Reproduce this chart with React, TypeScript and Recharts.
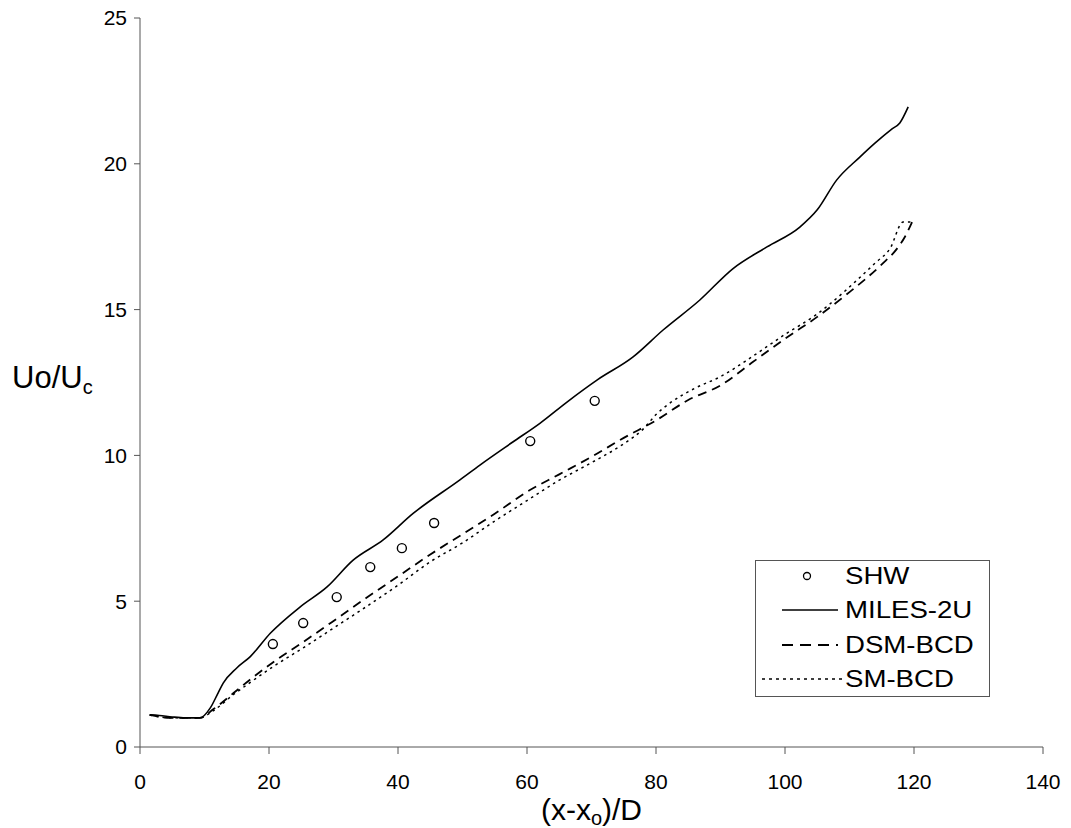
import {
  ComposedChart,
  Line,
  Scatter,
  XAxis,
  YAxis,
  Legend,
  Label,
} from "recharts";

const xTicks = [0, 20, 40, 60, 80, 100, 120, 140];
const yTicks = [0, 5, 10, 15, 20, 25];

const shwX = [20.6, 25.3, 30.5, 35.7, 40.6, 45.6, 60.5, 70.5];
const shwY = [3.53, 4.25, 5.14, 6.17, 6.82, 7.68, 10.49, 11.87];

const milesX = [
  1.5, 3, 5, 7, 9.3, 10.9, 12.1, 12.9, 15, 17.1, 20.2, 24.8, 29, 33, 37.7,
  42.3, 49.6, 52.7, 57.8, 62, 66.2, 70.9, 76.4, 81.1, 86.8, 91.9, 97.2, 102.3,
  105, 108, 111.6, 113.9, 116.6, 117.8, 119.1,
];
const milesY = [
  1.1, 1.08, 1.03, 1.0, 1.0, 1.34, 1.85, 2.19, 2.71, 3.1, 3.9, 4.8, 5.49, 6.4,
  7.1, 8.0, 9.16, 9.67, 10.46, 11.1, 11.83, 12.59, 13.37, 14.3, 15.33, 16.4,
  17.15, 17.83, 18.42, 19.44, 20.23, 20.7, 21.2, 21.4, 21.95,
];

const dsmX = [
  1.5, 4.6, 9.3, 11.4, 14.5, 17, 20.6, 25.3, 30.5, 35, 40, 45, 50, 55, 60, 65,
  70, 75, 80, 85, 90, 95, 100, 105, 110, 115, 117.4, 118.6, 119.7,
];
const dsmY = [
  1.1, 1.0, 1.0, 1.3, 1.85, 2.3, 2.9, 3.6, 4.4, 5.1, 5.85, 6.6, 7.3, 8.0, 8.75,
  9.35, 9.95, 10.6, 11.2, 11.9, 12.4, 13.2, 14.0, 14.75, 15.6, 16.55, 17.1,
  17.5, 18.0,
];

const smX = [
  1.5, 4.6, 9.3, 11.4, 14.5, 17, 20.6, 25.3, 30.5, 35, 40, 45, 50, 55, 60, 65,
  70, 75, 78, 80, 82.2, 86, 90, 95, 100, 105, 107, 111.6, 114, 116.3, 118.3,
  119.7,
];
const smY = [
  1.1, 1.0, 1.0, 1.25, 1.8, 2.2, 2.75, 3.4, 4.15, 4.8, 5.55, 6.35, 7.0, 7.75,
  8.45, 9.15, 9.75, 10.4, 10.9, 11.4, 11.8, 12.3, 12.7, 13.4, 14.15, 14.85,
  15.2, 16.1, 16.6, 17.1, 18.0, 18.0,
];

const toPoints = (xs: number[], ys: number[]) =>
  xs.map((x, i) => ({ x, y: ys[i] }));

const FONT = "'Liberation Sans', Arial, sans-serif";
const AXIS = "#555";

const OpenCircle = (props: any) => (
  <circle cx={props.cx} cy={props.cy} r={4.5} fill="#fff" stroke="#000" strokeWidth={1.4} />
);

const LegendBox = () => {
  const rows = [
    { name: "SHW", kind: "circle" },
    { name: "MILES-2U", kind: "solid" },
    { name: "DSM-BCD", kind: "dash" },
    { name: "SM-BCD", kind: "dot" },
  ];
  return (
    <div
      style={{
        width: 233,
        height: 135,
        border: "1px solid #555",
        background: "#fff",
        fontFamily: FONT,
        fontSize: 24,
        color: "#000",
        position: "relative",
      }}
    >
      {rows.map((r, i) => (
        <div
          key={r.name}
          style={{
            position: "absolute",
            top: 1 + i * 34.3,
            left: 0,
            height: 28,
            display: "flex",
            alignItems: "center",
            whiteSpace: "nowrap",
          }}
        >
          <svg width={89} height={28} style={{ display: "block" }}>
            {r.kind === "circle" && (
              <circle cx={51} cy={14} r={3.5} fill="#fff" stroke="#000" strokeWidth={1.3} />
            )}
            {r.kind === "solid" && (
              <line x1={26} x2={82} y1={14} y2={14} stroke="#000" strokeWidth={1.6} />
            )}
            {r.kind === "dash" && (
              <line x1={26} x2={82} y1={14} y2={14} stroke="#000" strokeWidth={1.8} strokeDasharray="11 7" />
            )}
            {r.kind === "dot" && (
              <line x1={6} x2={87} y1={14} y2={14} stroke="#000" strokeWidth={1.5} strokeDasharray="3 4" />
            )}
          </svg>
          <span
            style={{
              display: "inline-block",
              transform: "scaleX(1.15)",
              transformOrigin: "left center",
            }}
          >
            {r.name}
          </span>
        </div>
      ))}
    </div>
  );
};

const XTitle = (props: any) => {
  const { x, y, width } = props.viewBox;
  return (
    <text x={x + width / 2} y={y + 73} textAnchor="middle" fontFamily={FONT} fontSize={30} fill="#000">
      (x-x
      <tspan fontSize={20} dy={5}>o</tspan>
      <tspan dy={-5}>)/D</tspan>
    </text>
  );
};

const YTitle = (props: any) => {
  const { y, height } = props.viewBox;
  return (
    <text x={12} y={y + height / 2 + 5.5} fontFamily={FONT} fontSize={31} fill="#000">
      Uo/U
      <tspan fontSize={20} dy={6}>c</tspan>
    </text>
  );
};

export default function App() {
  return (
    <div style={{ position: "absolute", left: 0, top: 0, background: "#fff" }}>
      <ComposedChart
        width={1071}
        height={828}
        margin={{ top: 18, right: 28, left: 0, bottom: 0 }}
      >
        <XAxis
          dataKey="x"
          type="number"
          domain={[0, 140]}
          ticks={xTicks}
          allowDuplicatedCategory={false}
          height={81}
          tickSize={7}
          tickMargin={20}
          stroke={AXIS}
          tick={{ fill: "#000", fontSize: 21, fontFamily: FONT }}
        >
          <Label content={<XTitle />} />
        </XAxis>
        <YAxis
          dataKey="y"
          type="number"
          domain={[0, 25]}
          ticks={yTicks}
          width={140}
          tickSize={6}
          tickMargin={7}
          stroke={AXIS}
          tick={{ fill: "#000", fontSize: 21, fontFamily: FONT }}
        >
          <Label content={<YTitle />} />
        </YAxis>
        <Line
          data={toPoints(milesX, milesY)}
          dataKey="y"
          type="monotone"
          stroke="#000"
          strokeWidth={1.6}
          dot={false}
          isAnimationActive={false}
        />
        <Line
          data={toPoints(dsmX, dsmY)}
          dataKey="y"
          type="monotone"
          stroke="#000"
          strokeWidth={1.8}
          strokeDasharray="9 6"
          dot={false}
          isAnimationActive={false}
        />
        <Line
          data={toPoints(smX, smY)}
          dataKey="y"
          type="monotone"
          stroke="#000"
          strokeWidth={1.5}
          strokeDasharray="2.5 4"
          dot={false}
          isAnimationActive={false}
        />
        <Scatter
          data={toPoints(shwX, shwY)}
          dataKey="y"
          shape={<OpenCircle />}
          isAnimationActive={false}
        />
        <Legend
          layout="vertical"
          align="center"
          verticalAlign="middle"
          content={<LegendBox />}
          wrapperStyle={{ left: 755, top: 560, width: 235, height: 137 }}
        />
      </ComposedChart>
    </div>
  );
}
